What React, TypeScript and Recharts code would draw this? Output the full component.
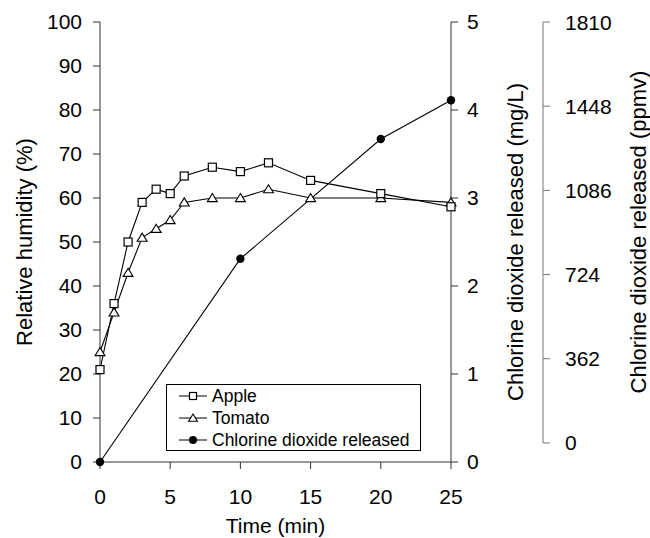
import React from "react";
import { ComposedChart, Line, XAxis, YAxis, Legend } from "recharts";

// sampling times (min)
const fruitTime = [0, 1, 2, 3, 4, 5, 6, 8, 10, 12, 15, 20, 25];
const appleRh = [21, 36, 50, 59, 62, 61, 65, 67, 66, 68, 64, 61, 58];
const tomatoRh = [25, 34, 43, 51, 53, 55, 59, 60, 60, 62, 60, 60, 59];
const clo2Time = [0, 10, 20, 25];
const clo2MgL = [0, 2.31, 3.67, 4.11];

const seriesNames = ["Apple", "Tomato", "Chlorine dioxide released"];

const timeTicks = [0, 5, 10, 15, 20, 25];
const rhTicks = [0, 10, 20, 30, 40, 50, 60, 70, 80, 90, 100];
const mgTicks = [0, 1, 2, 3, 4, 5];
const ppmvTicks = [0, 362, 724, 1086, 1448, 1810];

const appleData = fruitTime.map((t, i) => ({ t, rh: appleRh[i] }));
const tomatoData = fruitTime.map((t, i) => ({ t, rh: tomatoRh[i] }));
const clo2Data = clo2Time.map((t, i) => ({ t, mg: clo2MgL[i] }));

const W = 650;
const H = 538;
const TOP = 22;
const X_AXIS_H = 76;
const PLOT_H = H - TOP - X_AXIS_H;
// the ppmv axis stops short of the x axis
const PPMV_DOMAIN: [number, number] = [-82, 1810];

const FONT = "'Liberation Sans', Arial, Helvetica, sans-serif";

const Square = ({ cx, cy, s = 8 }: any) => (
  <rect x={cx - s / 2} y={cy - s / 2} width={s} height={s} fill="#fff" stroke="#000" strokeWidth={1.2} />
);
const Triangle = ({ cx, cy, s = 9 }: any) => (
  <path
    d={`M${cx},${cy - s * 0.5} L${cx + s * 0.55},${cy + s * 0.4} L${cx - s * 0.55},${cy + s * 0.4} Z`}
    fill="#fff"
    stroke="#000"
    strokeWidth={1.1}
  />
);
const Dot = ({ cx, cy, r = 4.2 }: any) => <circle cx={cx} cy={cy} r={r} fill="#000" />;

const axisTitle = (text: string, dx: number, dy = 0) => (props: any) => {
  const vb = props.viewBox || { x: 0, y: 0, width: 0, height: 0 };
  const x = vb.x + dx;
  const y = vb.y + vb.height / 2 + dy;
  return (
    <text
      x={x}
      y={y}
      transform={`rotate(-90, ${x}, ${y})`}
      textAnchor="middle"
      dominantBaseline="central"
      fontSize={22}
      fill="#000"
      fontFamily={FONT}
    >
      {text}
    </text>
  );
};

// ppmv axis: draws its own tick marks and the axis line between ticks
const PpmvTick = (props: any) => {
  const { x, y, payload } = props;
  const step = ((ppmvTicks[1] - ppmvTicks[0]) * PLOT_H) / (PPMV_DOMAIN[1] - PPMV_DOMAIN[0]);
  const isTop = payload.value >= ppmvTicks[ppmvTicks.length - 1];
  return (
    <g>
      <line x1={x} y1={y} x2={x + 7} y2={y} stroke="#777" />
      {!isTop && <line x1={x} y1={y} x2={x} y2={y - step} stroke="#777" />}
      <text x={x + 22} y={y} dominantBaseline="central" fontSize={21} fill="#000" fontFamily={FONT}>
        {payload.value}
      </text>
    </g>
  );
};

const renderLegend = () => {
  const icons = [<Square cx={14} cy={6} s={7} />, <Triangle cx={14} cy={6} s={8} />, <Dot cx={14} cy={6} r={4} />];
  return (
    <div
      style={{
        border: "1px solid #000",
        background: "#fff",
        boxSizing: "border-box",
        height: 67,
        paddingLeft: 12,
        fontFamily: FONT,
        fontSize: 17.5,
        color: "#000",
      }}
    >
      {seriesNames.map((name, i) => (
        <div key={name} style={{ display: "flex", alignItems: "center", height: 22 }}>
          <svg width={29} height={12} style={{ marginRight: 4, overflow: "visible" }}>
            <line x1={0} y1={6} x2={28} y2={6} stroke="#000" />
            {icons[i]}
          </svg>
          <span>{name}</span>
        </div>
      ))}
    </div>
  );
};

export default function App() {
  return (
    <div style={{ position: "absolute", left: 0, top: 0, width: W, height: H, background: "#fff", fontFamily: FONT }}>
      <ComposedChart width={W} height={H} margin={{ top: TOP, right: 0, bottom: 0, left: 0 }}>
        <XAxis
          dataKey="t"
          type="number"
          domain={[0, 25]}
          ticks={timeTicks}
          height={X_AXIS_H}
          stroke="#333"
          tickSize={7}
          tickMargin={20}
          tick={{ fill: "#000", fontSize: 21 }}
          label={{ value: "Time (min)", position: "insideBottom", offset: 5, fill: "#000", fontSize: 21 }}
        />
        <YAxis
          yAxisId="rh"
          orientation="left"
          width={100}
          domain={[0, 100]}
          ticks={rhTicks}
          stroke="#333"
          tickSize={7}
          tickMargin={11}
          tick={{ fill: "#000", fontSize: 21 }}
          label={axisTitle("Relative humidity (%)", 24)}
        />
        <YAxis
          yAxisId="mg"
          orientation="right"
          width={92}
          domain={[0, 5]}
          ticks={mgTicks}
          stroke="#333"
          tickSize={7}
          tickMargin={9}
          tick={{ fill: "#000", fontSize: 21 }}
          label={axisTitle("Chlorine dioxide released (mg/L)", 64)}
        />
        <YAxis
          yAxisId="ppmv"
          orientation="right"
          width={107}
          domain={PPMV_DOMAIN}
          allowDataOverflow
          ticks={ppmvTicks}
          axisLine={false}
          tickLine={false}
          tickSize={0}
          tickMargin={0}
          tick={<PpmvTick />}
          label={axisTitle("Chlorine dioxide released (ppmv)", 95, -10)}
        />
        <Legend
          layout="horizontal"
          align="center"
          verticalAlign="middle"
          content={renderLegend}
          wrapperStyle={{ left: 166, top: 384, width: 255, height: 67 }}
        />
        <Line
          yAxisId="mg"
          data={clo2Data}
          dataKey="mg"
          name={seriesNames[2]}
          stroke="#000"
          strokeWidth={1.1}
          dot={(p: any) => <Dot key={`c${p.index}`} cx={p.cx} cy={p.cy} />}
          isAnimationActive={false}
        />
        <Line
          yAxisId="rh"
          data={tomatoData}
          dataKey="rh"
          name={seriesNames[1]}
          stroke="#000"
          strokeWidth={1.1}
          dot={(p: any) => <Triangle key={`t${p.index}`} cx={p.cx} cy={p.cy} />}
          isAnimationActive={false}
        />
        <Line
          yAxisId="rh"
          data={appleData}
          dataKey="rh"
          name={seriesNames[0]}
          stroke="#000"
          strokeWidth={1.1}
          dot={(p: any) => <Square key={`a${p.index}`} cx={p.cx} cy={p.cy} />}
          isAnimationActive={false}
        />
      </ComposedChart>
    </div>
  );
}
